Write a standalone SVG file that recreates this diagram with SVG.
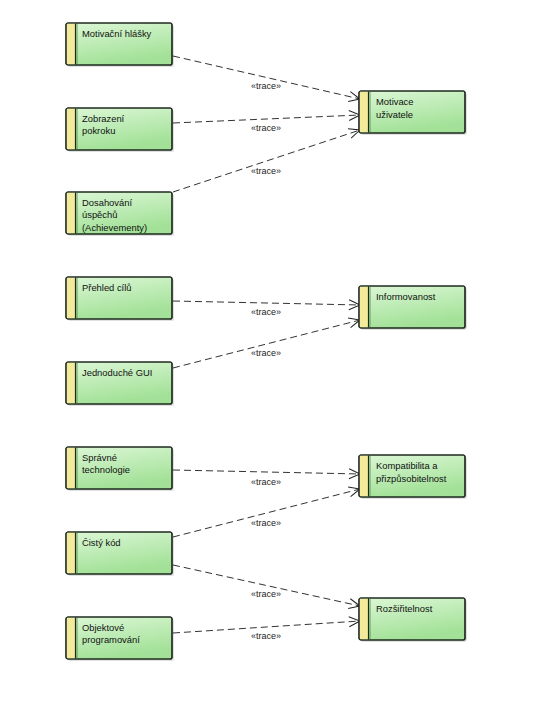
<svg xmlns="http://www.w3.org/2000/svg" width="552" height="705" viewBox="0 0 552 705">
<defs>
<linearGradient id="g" x1="0" y1="0" x2="0.35" y2="1">
<stop offset="0" stop-color="#dcf7d6"/>
<stop offset="1" stop-color="#a2e197"/>
</linearGradient>
<marker id="arr" markerWidth="14" markerHeight="12" refX="12" refY="6" orient="auto" markerUnits="userSpaceOnUse">
<path d="M1,1 L12,6 L1,11" fill="none" stroke="#222" stroke-width="1"/>
</marker>
<g id="box">
<rect x="2" y="2" width="106" height="42" rx="2" fill="#000" opacity="0.12"/>
<rect x="0" y="0" width="106" height="42" rx="2" fill="url(#g)" stroke="#1e2a1e" stroke-width="1.2"/>
<rect x="0.6" y="0.6" width="8.6" height="40.8" fill="#f3eb9b"/>
<rect x="0" y="0" width="106" height="42" rx="2" fill="none" stroke="#1e2a1e" stroke-width="1.2"/>
<line x1="9.5" y1="0.5" x2="9.5" y2="41.5" stroke="#1e2a1e" stroke-width="1.2"/>
<line x1="11" y1="1" x2="11" y2="41" stroke="#4a8a40" stroke-width="0.8"/>
</g>
</defs>
<style>
text{font-family:"Liberation Sans",Arial,sans-serif;font-size:9.4px;fill:#111}
.lbl{font-size:9px;text-anchor:middle;fill:#222}
.c{fill:none;stroke:#333;stroke-width:1;stroke-dasharray:7,4;marker-end:url(#arr)}
</style>
<rect width="552" height="705" fill="#fff"/>

<g id="connectors">
<path class="c" d="M173,56 L360,99"/>
<path class="c" d="M173,123 L360,115"/>
<path class="c" d="M173,192 L360,130"/>
<path class="c" d="M173,301 L360,305"/>
<path class="c" d="M173,368 L360,320"/>
<path class="c" d="M173,470 L360,474"/>
<path class="c" d="M173,537 L360,489"/>
<path class="c" d="M173,565 L360,606"/>
<path class="c" d="M173,633 L360,621"/>
<text class="lbl" x="266" y="89">«trace»</text>
<text class="lbl" x="266" y="131">«trace»</text>
<text class="lbl" x="266" y="174">«trace»</text>
<text class="lbl" x="266" y="315">«trace»</text>
<text class="lbl" x="266" y="356">«trace»</text>
<text class="lbl" x="266" y="485">«trace»</text>
<text class="lbl" x="266" y="526">«trace»</text>
<text class="lbl" x="266" y="597">«trace»</text>
<text class="lbl" x="266" y="639">«trace»</text>
</g>

<g id="n1"><use href="#box" x="66" y="23"/><text x="82" y="36.5">Motivační hlášky</text></g>
<g id="n2"><use href="#box" x="66" y="108"/><text x="82" y="121.5">Zobrazení</text><text x="82" y="134">pokroku</text></g>
<g id="n3"><use href="#box" x="66" y="192"/><text x="82" y="205.5">Dosahování</text><text x="82" y="218">úspěchů</text><text x="82" y="230.5">(Achievementy)</text></g>
<g id="n4"><use href="#box" x="66" y="277"/><text x="82" y="290.5">Přehled cílů</text></g>
<g id="n5"><use href="#box" x="66" y="362"/><text x="82" y="375.5">Jednoduché GUI</text></g>
<g id="n6"><use href="#box" x="66" y="447"/><text x="82" y="460.5">Správné</text><text x="82" y="473">technologie</text></g>
<g id="n7"><use href="#box" x="66" y="532"/><text x="82" y="545.5">Čistý kód</text></g>
<g id="n8"><use href="#box" x="66" y="617"/><text x="82" y="630.5">Objektové</text><text x="82" y="643">programování</text></g>

<g id="r1"><use href="#box" x="359" y="91"/><text x="376" y="105">Motivace</text><text x="376" y="117.5">uživatele</text></g>
<g id="r2"><use href="#box" x="359" y="286"/><text x="376" y="300">Informovanost</text></g>
<g id="r3"><use href="#box" x="359" y="455"/><text x="376" y="469">Kompatibilita a</text><text x="376" y="481.5">přizpůsobitelnost</text></g>
<g id="r4"><use href="#box" x="359" y="598"/><text x="376" y="612">Rozšiřitelnost</text></g>
</svg>
